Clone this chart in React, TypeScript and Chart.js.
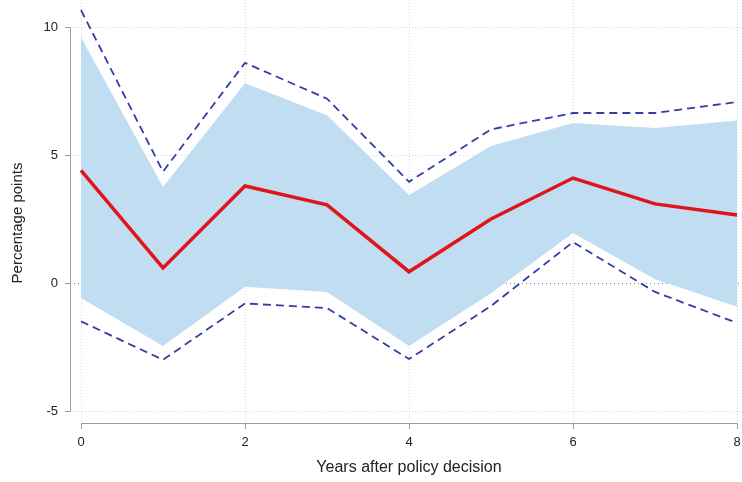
import React, { useEffect, useRef } from "react";
import { Chart, registerables } from "chart.js";

Chart.register(...registerables);

const years = [0, 1, 2, 3, 4, 5, 6, 7, 8];
const estimate = [4.4, 0.59, 3.79, 3.05, 0.44, 2.5, 4.1, 3.09, 2.66];
const bandUpper = [9.6, 3.75, 7.8, 6.55, 3.44, 5.35, 6.25, 6.05, 6.35];
const bandLower = [-0.59, -2.46, -0.15, -0.35, -2.46, -0.4, 1.95, 0.15, -0.93];
const dashUpper = [10.66, 4.35, 8.6, 7.2, 3.95, 6.0, 6.64, 6.64, 7.07];
const dashLower = [-1.5, -3.0, -0.8, -0.98, -2.97, -0.9, 1.6, -0.35, -1.56];
const xTicks = [0, 2, 4, 6, 8];
const yTicks = [-5, 0, 5, 10];

const FONT = "'Liberation Sans', Arial, Helvetica, sans-serif";

const pts = (ys: number[]) => years.map((x, i) => ({ x, y: ys[i] }));

export default function App() {
  const ref = useRef<HTMLCanvasElement | null>(null);
  useEffect(() => {
    if (!ref.current) return;
    const axesPlugin = {
      id: "stataAxes",
      beforeDatasetsDraw(chart: any) {
        const { ctx, scales } = chart;
        const xs = scales.x, ys = scales.y;
        ctx.save();
        ctx.strokeStyle = "#d8d8d8";
        ctx.lineWidth = 1;
        ctx.setLineDash([1, 2]);
        xTicks.forEach((v) => {
          const px = Math.round(xs.getPixelForValue(v)) + 0.5;
          ctx.beginPath();
          ctx.moveTo(px, 0);
          ctx.lineTo(px, 422);
          ctx.stroke();
        });
        yTicks.forEach((v) => {
          if (v === 0) return;
          const py = Math.round(ys.getPixelForValue(v)) + 0.5;
          ctx.beginPath();
          ctx.moveTo(70, py);
          ctx.lineTo(742, py);
          ctx.stroke();
        });
        ctx.restore();
      },
      afterDatasetDraw(chart: any, args: any) {
        if (args.index !== 0) return;
        const { ctx, scales } = chart;
        const py = Math.round(scales.y.getPixelForValue(0)) + 0.5;
        ctx.save();
        ctx.strokeStyle = "#6f7f92";
        ctx.lineWidth = 1;
        ctx.setLineDash([1, 3]);
        ctx.beginPath();
        ctx.moveTo(70, py);
        ctx.lineTo(742, py);
        ctx.stroke();
        ctx.restore();
      },
      afterDraw(chart: any) {
        const { ctx, scales } = chart;
        const xs = scales.x, ys = scales.y;
        ctx.save();
        ctx.strokeStyle = "#9a9a9a";
        ctx.lineWidth = 1;
        ctx.setLineDash([]);
        const yTop = Math.round(ys.getPixelForValue(10)) + 0.5;
        const yBot = Math.round(ys.getPixelForValue(-5)) + 0.5;
        ctx.beginPath();
        ctx.moveTo(70.5, yTop);
        ctx.lineTo(70.5, yBot);
        yTicks.forEach((v) => {
          const py = Math.round(ys.getPixelForValue(v)) + 0.5;
          ctx.moveTo(65, py);
          ctx.lineTo(70.5, py);
        });
        const xL = Math.round(xs.getPixelForValue(0)) + 0.5;
        const xR = Math.round(xs.getPixelForValue(8)) + 0.5;
        ctx.moveTo(xL, 423.5);
        ctx.lineTo(xR, 423.5);
        xTicks.forEach((v) => {
          const px = Math.round(xs.getPixelForValue(v)) + 0.5;
          ctx.moveTo(px, 423.5);
          ctx.lineTo(px, 429);
        });
        ctx.stroke();
        ctx.restore();
      },
    };

    const chart = new Chart(ref.current, {
      type: "line",
      data: {
        datasets: [
          {
            label: "Band lower",
            data: pts(bandLower),
            borderWidth: 0,
            pointRadius: 0,
            fill: false,
            order: 3,
            clip: false as any,
          },
          {
            label: "Band upper",
            data: pts(bandUpper),
            borderWidth: 0,
            pointRadius: 0,
            backgroundColor: "#c1ddf1",
            fill: "-1",
            order: 2,
            clip: false as any,
          },
          {
            label: "Upper bound",
            data: pts(dashUpper),
            borderColor: "#3a3aa6",
            borderWidth: 1.8,
            borderDash: [8, 5],
            pointRadius: 0,
            fill: false,
            order: 1,
            clip: false as any,
          },
          {
            label: "Lower bound",
            data: pts(dashLower),
            borderColor: "#3a3aa6",
            borderWidth: 1.8,
            borderDash: [8, 5],
            pointRadius: 0,
            fill: false,
            order: 1,
            clip: false as any,
          },
          {
            label: "Estimate",
            data: pts(estimate),
            borderColor: "#e2141b",
            borderWidth: 3.5,
            pointRadius: 0,
            fill: false,
            order: 0,
            clip: false as any,
          },
        ],
      },
      options: {
        responsive: false,
        animation: false,
        layout: { padding: { left: 0, right: 5, top: 23, bottom: 0 } },
        plugins: {
          legend: { display: false },
          tooltip: { enabled: false },
        },
        elements: { line: { tension: 0 } },
        scales: {
          x: {
            type: "linear",
            min: 0,
            max: 8,
            afterBuildTicks: (s: any) => {
              s.ticks = xTicks.map((v) => ({ value: v }));
            },
            afterFit: (s: any) => {
              s.height = 59;
              s.paddingLeft = 0;
              s.paddingRight = 0;
            },
            grid: { display: false, drawTicks: false },
            border: { display: false },
            ticks: {
              padding: 12,
              color: "#222",
              font: { family: FONT, size: 13 },
              maxRotation: 0,
            },
            title: {
              display: true,
              text: "Years after policy decision",
              color: "#222",
              font: { family: FONT, size: 16 },
              padding: { top: 0, bottom: 5 },
            },
          },
          y: {
            type: "linear",
            min: -5.469,
            max: 10.156,
            afterBuildTicks: (s: any) => {
              s.ticks = yTicks.map((v) => ({ value: v }));
            },
            afterFit: (s: any) => {
              s.width = 81;
              s.paddingTop = 0;
              s.paddingBottom = 0;
            },
            grid: { display: false, drawTicks: false },
            border: { display: false },
            ticks: {
              padding: 23,
              color: "#222",
              font: { family: FONT, size: 13 },
            },
            title: {
              display: true,
              text: "Percentage points",
              color: "#222",
              font: { family: FONT, size: 15 },
              padding: { top: 9, bottom: 0 },
            },
          },
        },
      },
      plugins: [axesPlugin],
    } as any);
    return () => chart.destroy();
  }, []);

  return (
    <div style={{ position: "fixed", left: 0, top: 0, width: 742, height: 482, background: "#fff" }}>
      <canvas ref={ref} width={742} height={482} style={{ display: "block" }} />
    </div>
  );
}
